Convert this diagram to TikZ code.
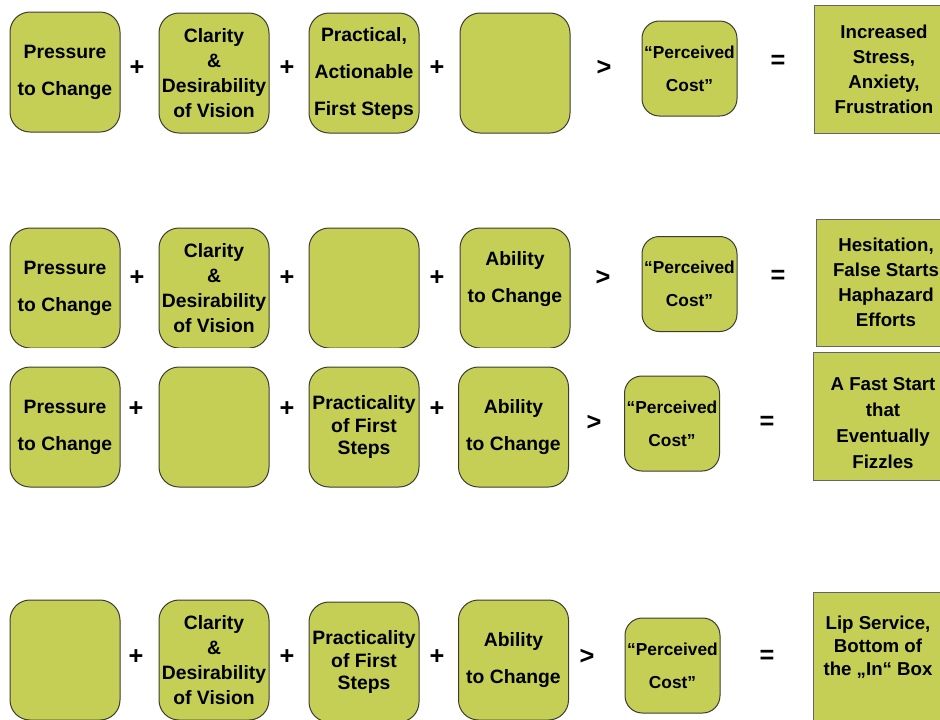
\documentclass[tikz,border=0pt]{standalone}
\usepackage{fontspec}
\setmainfont{Liberation Sans}
\usepackage{tikz}
\definecolor{cm_lime}{RGB}{197, 207, 85}
\definecolor{cm_edge}{RGB}{60, 60, 50}
\definecolor{cm_grey}{RGB}{100, 100, 100}
\tikzstyle{rb}=[rectangle,rounded corners=15pt,fill=cm_lime,draw=cm_edge,
  line width=0.75pt,inner sep=0pt,minimum width=82.5pt,minimum height=90pt,
  align=center,font=\fontsize{14.5}{27.75}\selectfont\bfseries]
\tikzstyle{snug}=[font=\fontsize{14.5}{18.75}\selectfont\bfseries]
\tikzstyle{snugger}=[font=\fontsize{14.5}{17}\selectfont\bfseries]
\tikzstyle{pc}=[rectangle,rounded corners=13pt,fill=cm_lime,draw=cm_edge,
  line width=0.75pt,inner sep=0pt,minimum width=71.25pt,minimum height=71.25pt,
  align=center,font=\fontsize{13}{24.75}\selectfont\bfseries]
\tikzstyle{res}=[rectangle,fill=cm_lime,draw=cm_grey,line width=0.75pt,
  inner sep=0pt,minimum width=105pt,minimum height=96pt,
  align=center,font=\fontsize{14}{18.75}\selectfont\bfseries]
\tikzstyle{op}=[inner sep=0pt,font=\fontsize{19}{19}\selectfont\bfseries]
\tikzstyle{none}=[align=center,inner sep=0pt]
\begin{document}
\begin{tikzpicture}[x=0.75pt,y=-0.75pt]
            \useasboundingbox (0, 0) rectangle (940, 719);
            \clip (0, 0) rectangle (940, 719);
            % row 1
            \node [style=rb] (1) at (65, 72) {Pressure\\to Change};
            \node [style=op] (2) at (137, 68) {+};
            \node [style=rb, style=snug] (3) at (214, 73) {Clarity\\\&\\Desirability\\of Vision};
            \node [style=op] (4) at (287, 68) {+};
            \node [style=rb] (5) at (364, 73) {Practical,\\Actionable\\First Steps};
            \node [style=op] (6) at (437, 68) {+};
            \node [style=rb] (7) at (515, 73) {};
            \node [style=op] (8) at (604, 68) {>};
            \node [style=pc] (9) at (689.5, 68.5) {“Perceived\\Cost”};
            \node [style=op] (10) at (778, 62) {=};
            \node [style=res] (11) at (884, 69) {Increased\\Stress,\\Anxiety,\\Frustration};
            % row 2
            \begin{scope}
            \clip (0, 200) rectangle (800, 347);
            \node [style=rb] (12) at (65, 288) {Pressure\\to Change};
            \node [style=rb, style=snug] (14) at (214, 288) {Clarity\\\&\\Desirability\\of Vision};
            \node [style=rb] (16) at (364, 288) {};
            \node [style=rb] (18) at (515, 288) {};
            \end{scope}
            \node [style=op] (13) at (137, 278) {+};
            \node [style=op] (15) at (287, 278) {+};
            \node [style=op] (17) at (437, 278) {+};
            \node [style=none, font=\fontsize{14.5}{27.75}\selectfont\bfseries] (19) at (515, 279) {Ability\\to Change};
            \node [style=op] (20) at (603, 278) {>};
            \node [style=pc] (21) at (689.5, 284) {“Perceived\\Cost”};
            \node [style=op] (22) at (778, 277) {=};
            \node [style=res, minimum height=95.25pt] (23) at (886, 282.5) {Hesitation,\\False Starts\\Haphazard\\Efforts};
            % row 3
            \node [style=rb] (24) at (65, 427) {Pressure\\to Change};
            \node [style=op] (25) at (136, 409) {+};
            \node [style=rb] (26) at (214, 427) {};
            \node [style=op] (27) at (287, 409) {+};
            \node [style=rb, style=snugger] (28) at (364, 427) {Practicality\\of First\\Steps};
            \node [style=op] (29) at (437, 409) {+};
            \node [style=rb] (30) at (513.5, 427) {Ability\\to Change};
            \node [style=op] (31) at (594, 423) {>};
            \node [style=pc] (32) at (672, 423.5) {“Perceived\\Cost”};
            \node [style=op] (33) at (767, 423) {=};
            \node [style=res] (34) at (883, 416) {};
            \node [style=none, font=\fontsize{14}{19.5}\selectfont\bfseries] (35) at (883, 423) {A Fast Start\\that\\Eventually\\Fizzles};
            % row 4
            \node [style=rb] (36) at (65, 660) {};
            \node [style=op] (37) at (136, 657) {+};
            \node [style=rb, style=snug] (38) at (214, 660) {Clarity\\\&\\Desirability\\of Vision};
            \node [style=op] (39) at (287, 657) {+};
            \node [style=rb, style=snugger] (40) at (364, 662) {Practicality\\of First\\Steps};
            \node [style=op] (41) at (437, 657) {+};
            \node [style=rb] (42) at (513.5, 660) {Ability\\to Change};
            \node [style=op] (43) at (587, 657) {>};
            \node [style=pc] (44) at (672.5, 665.5) {“Perceived\\Cost”};
            \node [style=op] (45) at (767, 657) {=};
            \node [style=res, minimum height=120pt] (46) at (883, 672) {};
            \node [style=none, font=\fontsize{14}{17.25}\selectfont\bfseries] (47) at (878, 647) {Lip Service,\\Bottom of\\the „In“ Box};
    \end{tikzpicture}
\end{document}
